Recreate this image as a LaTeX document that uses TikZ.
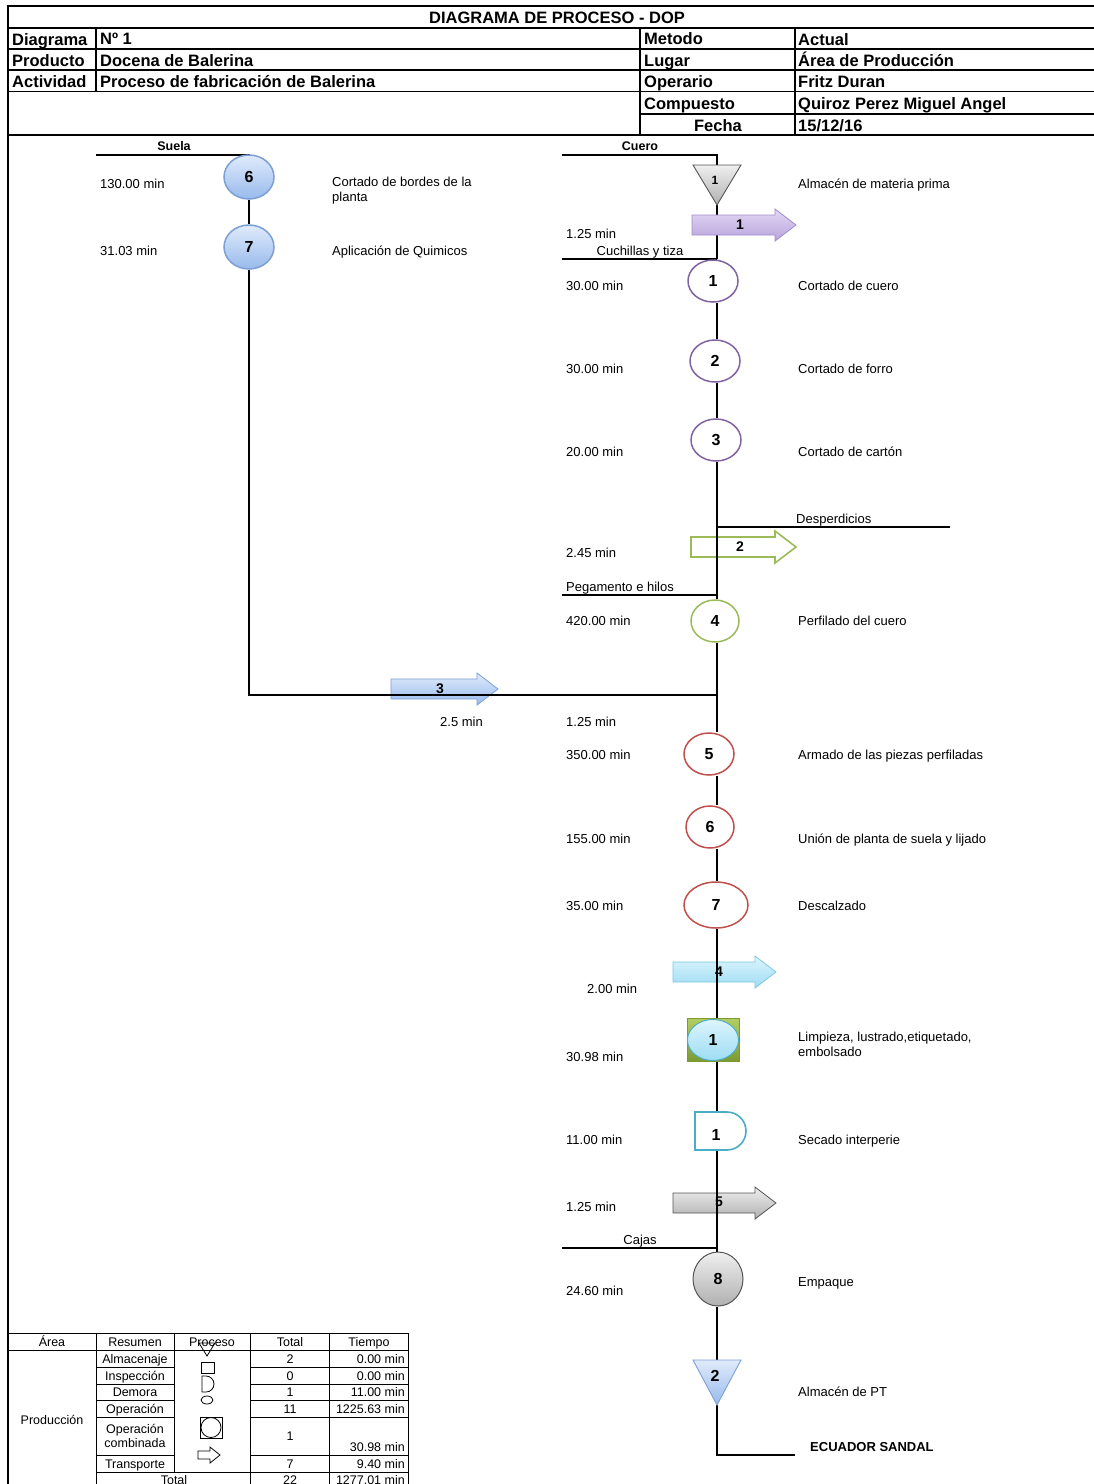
\documentclass[tikz,border=0pt]{standalone}
\usepackage{fontspec}
\setmainfont{Liberation Sans}
\usetikzlibrary{shapes.geometric}
\pgfdeclarelayer{bgw}
\pgfdeclarelayer{arr}
\pgfdeclarelayer{lines}
\pgfsetlayers{bgw,arr,lines,main}
\definecolor{pur}{HTML}{8064A2}
\definecolor{grn}{HTML}{9BBB59}
\definecolor{redc}{HTML}{C0504D}
\definecolor{tealc}{HTML}{4BACC6}
\definecolor{bluT}{HTML}{E0EBFB}
\definecolor{bluB}{HTML}{98BAEC}
\definecolor{bluD}{HTML}{7BA0D6}
\definecolor{gryT}{HTML}{EFEFEF}
\definecolor{gryB}{HTML}{B0B0B0}
\definecolor{gryD}{HTML}{555555}
\definecolor{purT}{HTML}{E2D8F3}
\definecolor{purB}{HTML}{B8A3DD}
\definecolor{purD}{HTML}{A08CCB}
\definecolor{cyT}{HTML}{DDF5FD}
\definecolor{cyB}{HTML}{9DDCF3}
\definecolor{cyD}{HTML}{7EC8E0}
\definecolor{gT}{HTML}{B2CE62}
\definecolor{gB}{HTML}{7C9A33}
\newcommand{\tarrow}[5]{%
  \path[#5] (#2,#4-10) -- (#3-21,#4-10) -- (#3-21,#4-16) -- (#3,#4) -- (#3-21,#4+16) -- (#3-21,#4+10) -- (#2,#4+10) -- cycle;
  \coordinate (#1) at (#2,#4);}
\tikzset{
  ln/.style={line width=1.8pt},
  hl/.style={line width=1.1pt},
  tl/.style={line width=0.8pt},
  mlbl/.style={font=\fontsize{13}{15}\selectfont, inner sep=0pt},
  lbl/.style={mlbl, anchor=west, text height=9.4pt, text depth=0pt},
  clbl/.style={mlbl, text height=9.4pt, text depth=0pt},
  hd/.style={font=\bfseries\fontsize{16.5}{19}\selectfont, inner sep=0pt, anchor=west, text height=12pt, text depth=0pt},
  bl/.style={font=\bfseries\fontsize{13}{15}\selectfont, inner sep=0pt, text height=9.4pt, text depth=0pt},
  mtb/.style={font=\fontsize{12.5}{14}\selectfont, inner sep=0pt},
  tb/.style={mtb, text height=9pt, text depth=0pt},
  anum/.style={font=\bfseries\fontsize{14}{16}\selectfont, inner sep=0pt},
  tnum/.style={font=\bfseries\fontsize{16}{18}\selectfont, inner sep=0pt},
  op/.style={ellipse, line width=1.5pt, inner sep=0pt, minimum width=50pt, minimum height=42pt, font=\bfseries\fontsize{16}{18}\selectfont},
  opp/.style={op, draw=pur, fill=white},
  opr/.style={op, draw=redc, fill=white},
  opb/.style={op, draw=bluD, top color=bluT, bottom color=bluB, minimum height=44pt},
}
\begin{document}
\begin{tikzpicture}[x=1pt,y=-1pt]
\useasboundingbox (0,0) rectangle (1094,1484);
\begin{pgfonlayer}{bgw}
\fill[white] (0,0) rectangle (1094,1484);
\end{pgfonlayer}

% ---------- header ----------
\draw[hl] (1094,6) -- (8,6) -- (8,1484);
\draw[hl] (8,28) -- (1094,28);
\draw[hl] (8,49) -- (1094,49);
\draw[hl] (8,70) -- (1094,70);
\draw[hl] (8,91.5) -- (1094,91.5);
\draw[hl] (640,114) -- (1094,114);
\draw[line width=2.2pt] (8,135) -- (1094,135);
\draw[hl] (96,28) -- (96,91.5);
\draw[hl] (640,28) -- (640,135);
\draw[hl] (795,28) -- (795,135);
\node[hd, anchor=center] (title) at (557,17) {DIAGRAMA DE PROCESO - DOP};
\node[hd] (h1) at (12,39) {Diagrama};
\node[hd] (h2) at (12,60) {Producto};
\node[hd] (h3) at (12,81) {Actividad};
\node[hd] (v1) at (100,38) {Nº 1};
\node[hd] (v2) at (100,60) {Docena de Balerina};
\node[hd] (v3) at (100,81) {Proceso de fabricación de Balerina};
\node[hd] (h4) at (644,38) {Metodo};
\node[hd] (h5) at (644,60) {Lugar};
\node[hd] (h6) at (644,81) {Operario};
\node[hd] (h7) at (644,103) {Compuesto};
\node[hd, anchor=center] (h8) at (718,125) {Fecha};
\node[hd] (v4) at (798,39) {Actual};
\node[hd] (v5) at (798,60) {Área de Producción};
\node[hd] (v6) at (798,81) {Fritz Duran};
\node[hd] (v7) at (798,103) {Quiroz Perez Miguel Angel};
\node[hd] (v8) at (798,125) {15/12/16};

% ---------- transport arrows (bottom layer) ----------
\begin{pgfonlayer}{arr}
\tarrow{a2}{691}{796}{547}{draw=grn, line width=1.6pt, fill=white}
\tarrow{a3}{391}{498}{689}{draw=bluD, line width=0.8pt, top color=bluT, bottom color=bluB}
\tarrow{a4}{673}{776}{972}{draw=cyD, line width=0.8pt, top color=cyT, bottom color=cyB}
\tarrow{a5}{673}{776}{1203}{draw=gryD, line width=0.8pt, top color=gryT, bottom color=gryB}
\end{pgfonlayer}
\node[anum] (la2) at (740,547) {2};
\node[anum] (la3) at (440,689) {3};
\node[anum] (la4) at (719,972) {4};
\node[anum] (la5) at (719,1202) {5};

% ---------- left column (Suela) ----------
\node[bl] (suela) at (174,146) {\fontsize{12.5}{14}\selectfont Suela};
\coordinate (suelaS) at (96,155);
\node[opb] (l6) at (249,177) {6};
\node[opb] (l7) at (249,247) {7};
\node[lbl] (tl6) at (100,184) {130.00 min};
\node[lbl] (tl7) at (100,251) {31.03 min};
\node[mlbl, align=left, anchor=north west] (dl6) at (332,177) {Cortado de bordes de la\\planta};
\node[lbl] (dl7) at (332,251) {Aplicación de Quimicos};

% ---------- right column (Cuero) ----------
\coordinate (sp) at (717,0);
\node[bl] (cuero) at (640,146) {\fontsize{12.5}{14}\selectfont Cuero};
\coordinate (cueroS) at (562,155);
\coordinate (t1top) at (717,165);
\coordinate (t1bot) at (717,205);
\path[draw=gryD, line width=0.9pt, top color=gryT, bottom color=gryB] (693,165) -- (741,165) -- (t1bot) -- cycle;
\node[anum, font=\bfseries\fontsize{12}{14}\selectfont] (t1) at (715,180) {1};
\node[lbl] (dt1) at (798,184) {Almacén de materia prima};

\path[draw=purD, line width=0.8pt, top color=purT, bottom color=purB] (692,215) -- (775,215) -- (775,209) -- (796,225) -- (775,241) -- (775,235) -- (692,235) -- cycle;
\node[anum] (a1) at (740,225) {1};
\node[lbl] (ta1) at (566,234) {1.25 min};
\node[clbl] (cuch) at (640,251) {Cuchillas y tiza};
\coordinate (cuchS) at (562,259);
\coordinate (cuchE) at (717,259);

\node[opp] (c1) at (713,281) {1};
\node[opp] (c2) at (715,361) {2};
\node[opp] (c3) at (716,440) {3};
\node[lbl] (tc1) at (566,286) {30.00 min};
\node[lbl] (tc2) at (566,369) {30.00 min};
\node[lbl] (tc3) at (566,452) {20.00 min};
\node[lbl] (dc1) at (798,286) {Cortado de cuero};
\node[lbl] (dc2) at (798,369) {Cortado de forro};
\node[lbl] (dc3) at (798,452) {Cortado de cartón};

\node[lbl] (desp) at (796,519) {Desperdicios};
\coordinate (despS) at (717,527);
\coordinate (despE) at (950,527);
\node[lbl] (ta2) at (566,553) {2.45 min};
\node[lbl] (peg) at (566,587) {Pegamento e hilos};
\coordinate (pegS) at (562,595);
\coordinate (pegE) at (717,595);

\node[op, draw=grn, fill=white, minimum width=48pt] (c4) at (715,621) {4};
\node[lbl] (tc4) at (566,621) {420.00 min};
\node[lbl] (dc4) at (798,621) {Perfilado del cuero};

\coordinate (m3) at (717,695);
\node[lbl] (ta3) at (440,722) {2.5 min};
\node[lbl] (tm) at (566,722) {1.25 min};

\node[opr] (c5) at (709,754) {5};
\node[opr, minimum width=48pt] (c6) at (710,827) {6};
\node[opr, minimum width=64pt, minimum height=46pt] (c7) at (716,905) {7};
\node[lbl] (tc5) at (566,755) {350.00 min};
\node[lbl] (tc6) at (566,839) {155.00 min};
\node[lbl] (tc7) at (566,906) {35.00 min};
\node[lbl] (dc5) at (798,755) {Armado de las piezas perfiladas};
\node[lbl] (dc6) at (798,839) {Unión de planta de suela y lijado};
\node[lbl] (dc7) at (798,906) {Descalzado};

\node[lbl] (ta4) at (587,989) {2.00 min};

\node[draw=gB, line width=0.8pt, top color=gT, bottom color=gB, minimum width=52pt, minimum height=43pt, inner sep=0pt] (sq) at (713,1040) {};
\node[op, draw=tealc, line width=0.9pt, top color=cyT, bottom color=cyB, minimum width=51pt, minimum height=41pt] (cb) at (713,1040) {1};
\node[lbl] (tcb) at (566,1057) {30.98 min};
\node[mlbl, align=left, anchor=north west] (dcb) at (798,1032) {Limpieza, lustrado,etiquetado,\\embolsado};

\path[draw=tealc, line width=1.6pt, fill=white] (727,1150) -- (695,1150) -- (695,1112) -- (727,1112) arc[start angle=90, end angle=-90, radius=19pt];
\coordinate (dtop) at (717,1112);
\coordinate (dbot) at (717,1150);
\node[tnum] (d1) at (716,1135) {1};
\node[lbl] (td1) at (566,1140) {11.00 min};
\node[lbl] (dd1) at (798,1140) {Secado interperie};

\node[lbl] (ta5) at (566,1207) {1.25 min};
\node[clbl] (cajas) at (640,1240) {Cajas};
\coordinate (cajS) at (562,1248);
\coordinate (cajE) at (717,1248);

\node[op, draw=gryD, line width=1pt, top color=gryT, bottom color=gryB, minimum width=50pt, minimum height=54pt] (c8) at (718,1279) {8};
\node[lbl] (tc8) at (566,1291) {24.60 min};
\node[lbl] (dc8) at (798,1282) {Empaque};

\coordinate (t2top) at (717,1360);
\coordinate (t2bot) at (717,1405);
\path[draw=bluD, line width=0.9pt, top color=bluT, bottom color=bluB] (693,1360) -- (741,1360) -- (t2bot) -- cycle;
\node[tnum] (t2) at (715,1376) {2};
\node[lbl] (dt2) at (798,1392) {Almacén de PT};
\coordinate (endc) at (795,1455);
\node[bl, anchor=west] (ecu) at (810,1447) {ECUADOR SANDAL};

% ---------- connectors ----------
\begin{pgfonlayer}{lines}
\draw[ln] (suelaS) -| (l6.north);
\draw[ln] (l6) -- (l7);
\draw[ln] (l7.south) |- (m3);
\draw[ln] (cueroS) -| (t1top);
\draw[ln] (t1bot) -- (c1.north -| sp);
\draw[ln] (cuchS) -- (cuchE);
\draw[ln] (c1.south -| sp) -- (c2.north -| sp);
\draw[ln] (c2.south -| sp) -- (c3.north -| sp);
\draw[ln] (c3.south -| sp) -- (c4.north -| sp);
\draw[ln] (despS) -- (despE);
\draw[ln] (pegS) -- (pegE);
\draw[ln] (c4.south -| sp) -- (c5.north -| sp);
\draw[ln] (c5.south -| sp) -- (c6.north -| sp);
\draw[ln] (c6.south -| sp) -- (c7.north -| sp);
\draw[ln] (c7.south -| sp) -- (sq.north -| sp);
\draw[ln] (sq.south -| sp) -- (dtop);
\draw[ln] (dbot) -- (c8.north -| sp);
\draw[ln] (cajS) -- (cajE);
\draw[ln] (c8.south -| sp) -- (t2top);
\draw[ln] (t2bot) |- (endc);
\end{pgfonlayer}

% ---------- summary table ----------
\draw[tl] (8,1333) -- (408,1333);
\draw[tl] (8,1350) -- (408,1350);
\foreach \yy in {1367,1384,1400,1417,1455} {
  \draw[tl] (96,\yy) -- (174,\yy);
  \draw[tl] (250,\yy) -- (408,\yy);
}
\draw[tl] (96,1472) -- (408,1472);
\draw[tl] (96,1333) -- (96,1484);
\draw[tl] (174,1333) -- (174,1472);
\draw[tl] (250,1333) -- (250,1484);
\draw[tl] (329,1333) -- (329,1484);
\draw[tl] (408,1333) -- (408,1484);
\node[tb] (th1) at (52,1342) {Área};
\node[tb] (th2) at (135,1342) {Resumen};
\node[tb] (th3) at (212,1342) {Proceso};
\node[tb] (th4) at (290,1342) {Total};
\node[tb] (th5) at (369,1342) {Tiempo};
\node[tb] (prod) at (52,1420) {Producción};
\node[tb] (r1) at (135,1359) {Almacenaje};
\node[tb] (r2) at (135,1376) {Inspección};
\node[tb] (r3) at (135,1392) {Demora};
\node[tb] (r4) at (135,1409) {Operación};
\node[mtb, align=center] (r5) at (135,1436) {Operación\\combinada};
\node[tb] (r6) at (135,1464) {Transporte};
\node[tb] (r7) at (174,1480) {Total};
\node[tb] (n1) at (290,1359) {2};
\node[tb] (n2) at (290,1376) {0};
\node[tb] (n3) at (290,1392) {1};
\node[tb] (n4) at (290,1409) {11};
\node[tb] (n5) at (290,1436) {1};
\node[tb] (n6) at (290,1464) {7};
\node[tb] (n7) at (290,1480) {22};
\node[tb, anchor=east] (m1) at (405,1359) {0.00 min};
\node[tb, anchor=east] (m2) at (405,1376) {0.00 min};
\node[tb, anchor=east] (m3t) at (405,1392) {11.00 min};
\node[tb, anchor=east] (m4) at (405,1409) {1225.63 min};
\node[tb, anchor=east] (m5) at (405,1447) {30.98 min};
\node[tb, anchor=east] (m6) at (405,1464) {9.40 min};
\node[tb, anchor=east] (m7) at (405,1480) {1277.01 min};
% process symbols
\draw[tl] (199,1343) -- (215,1343) -- (207,1356) -- cycle;
\draw[tl] (201,1362) rectangle (214,1373);
\draw[tl] (206,1392) -- (202,1392) -- (202,1376) -- (206,1376) arc[start angle=90, end angle=-90, radius=8pt];
\draw[tl] (207,1400) ellipse [x radius=6pt, y radius=4pt];
\draw[tl] (200,1417) rectangle (222,1438);
\draw[tl] (211,1427.5) circle [radius=10pt];
\draw[tl] (198,1451) -- (210,1451) -- (210,1447) -- (220,1455) -- (210,1463) -- (210,1459) -- (198,1459) -- cycle;
\end{tikzpicture}
\end{document}
